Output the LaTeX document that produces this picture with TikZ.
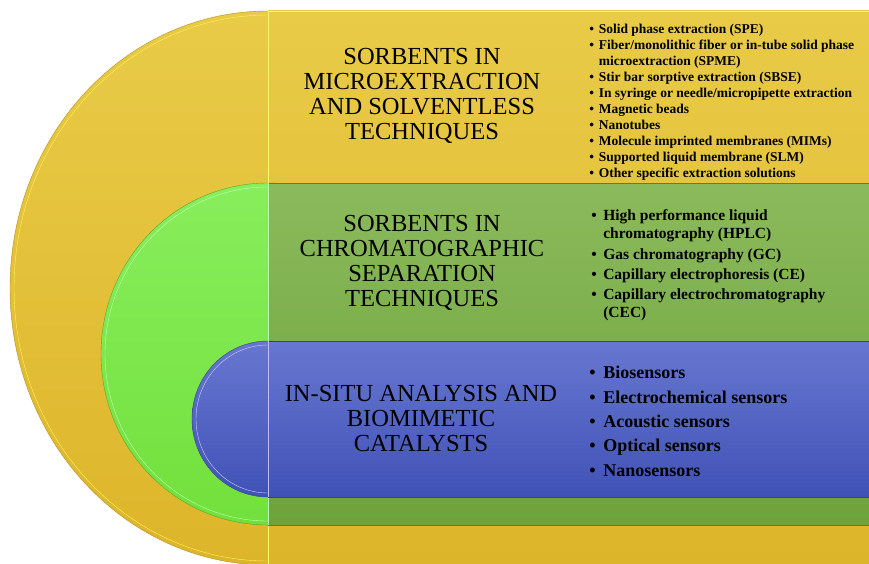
\documentclass[tikz,border=0pt]{standalone}
\usepackage{fontspec}
\setmainfont{Liberation Serif}
\usetikzlibrary{positioning}

\definecolor{ylwtop}{HTML}{E9CB48}
\definecolor{ylwbot}{HTML}{DDB52A}
\definecolor{grntop}{HTML}{8BBA5C}
\definecolor{grnbot}{HTML}{6EA23A}
\definecolor{limetop}{HTML}{88EE5C}
\definecolor{limebot}{HTML}{72E03C}
\definecolor{blutop}{HTML}{6777D0}
\definecolor{blubot}{HTML}{4152B7}

\newcommand{\itm}[1][10pt]{\makebox[#1][l]{\textbullet}}

\begin{document}
\begin{tikzpicture}[x=1pt,y=-1pt,semithick]
        \tikzstyle{title}=[align=center,font=\fontsize{24.5}{25}\selectfont,text=black]
        \tikzstyle{items}=[align=left,anchor=north west,inner sep=0pt,text=black]

        \useasboundingbox (0,0) rectangle (869,564);

        % outer band
        \shade[top color=ylwtop,bottom color=ylwbot,draw=ylwbot!80!black,thin] (268,288) ellipse [x radius=258,y radius=277];
        \draw[yellow!70!white,thin] (268,288) ellipse [x radius=254,y radius=273];
        \shade[top color=ylwtop,bottom color=ylwbot] (268,11) rectangle (869,564);
        \draw[yellow!60!white,thin] (268,11) -- (869,11) (268,11) -- (268,564);

        % middle band
        \shade[top color=limetop,bottom color=limebot,draw=limebot!75!black,thin] (268,354) ellipse [x radius=167,y radius=171];
        \draw[green!25!white,thin] (268,354) ellipse [x radius=163,y radius=167];
        \shade[top color=grntop,bottom color=grnbot,draw=grnbot!80!black,thin] (268,183) rectangle (869,525);
        \draw[green!30!white,thin] (268,183) -- (268,525);

        % inner band
        \shade[top color=blutop,bottom color=blubot,draw=blubot!80!black,thin] (268,419) ellipse [x radius=76,y radius=78];
        \draw[blue!20!white,thin] (268,419) ellipse [x radius=72,y radius=74];
        \shade[top color=blutop,bottom color=blubot,draw=blubot!80!black,thin] (268,341) rectangle (869,497);
        \draw[blue!25!white,thin] (268,341) -- (268,497);

        % titles
        \node[title] (micro) at (422,96) {SORBENTS IN\\MICROEXTRACTION\\AND SOLVENTLESS\\TECHNIQUES};
        \node[title] (chrom) at (422,263) {SORBENTS IN\\CHROMATOGRAPHIC\\SEPARATION\\TECHNIQUES};
        \node[title] (situ) at (421,419) {IN-SITU ANALYSIS AND\\BIOMIMETIC\\CATALYSTS};

        % lists
        \node[items,font=\bfseries\fontsize{13.5}{16}\selectfont] (microlist) at (589,23.4) {%
            \itm[9.5pt]Solid phase extraction (SPE)\\
            \itm[9.5pt]Fiber/monolithic fiber or in-tube solid phase\\
            \hspace*{9.5pt}microextraction (SPME)\\
            \itm[9.5pt]Stir bar sorptive extraction (SBSE)\\
            \itm[9.5pt]In syringe or needle/micropipette extraction\\
            \itm[9.5pt]Magnetic beads\\
            \itm[9.5pt]Nanotubes\\
            \itm[9.5pt]Molecule imprinted membranes (MIMs)\\
            \itm[9.5pt]Supported liquid membrane (SLM)\\
            \itm[9.5pt]Other specific extraction solutions};
        \node[items,font=\bfseries\fontsize{15.5}{18}\selectfont] (chromlist) at (591,209.7) {%
            \itm[12pt]High performance liquid\\
            \hspace*{12pt}chromatography (HPLC)\\[3pt]
            \itm[12pt]Gas chromatography (GC)\\[2pt]
            \itm[12pt]Capillary electrophoresis (CE)\\[2pt]
            \itm[12pt]Capillary electrochromatography\\
            \hspace*{12pt}(CEC)};
        \node[items,font=\bfseries\fontsize{18}{24.4}\selectfont] (situlist) at (589,365.9) {%
            \itm[14pt]Biosensors\\
            \itm[14pt]Electrochemical sensors\\
            \itm[14pt]Acoustic sensors\\
            \itm[14pt]Optical sensors\\
            \itm[14pt]Nanosensors};
    \end{tikzpicture}
\end{document}
